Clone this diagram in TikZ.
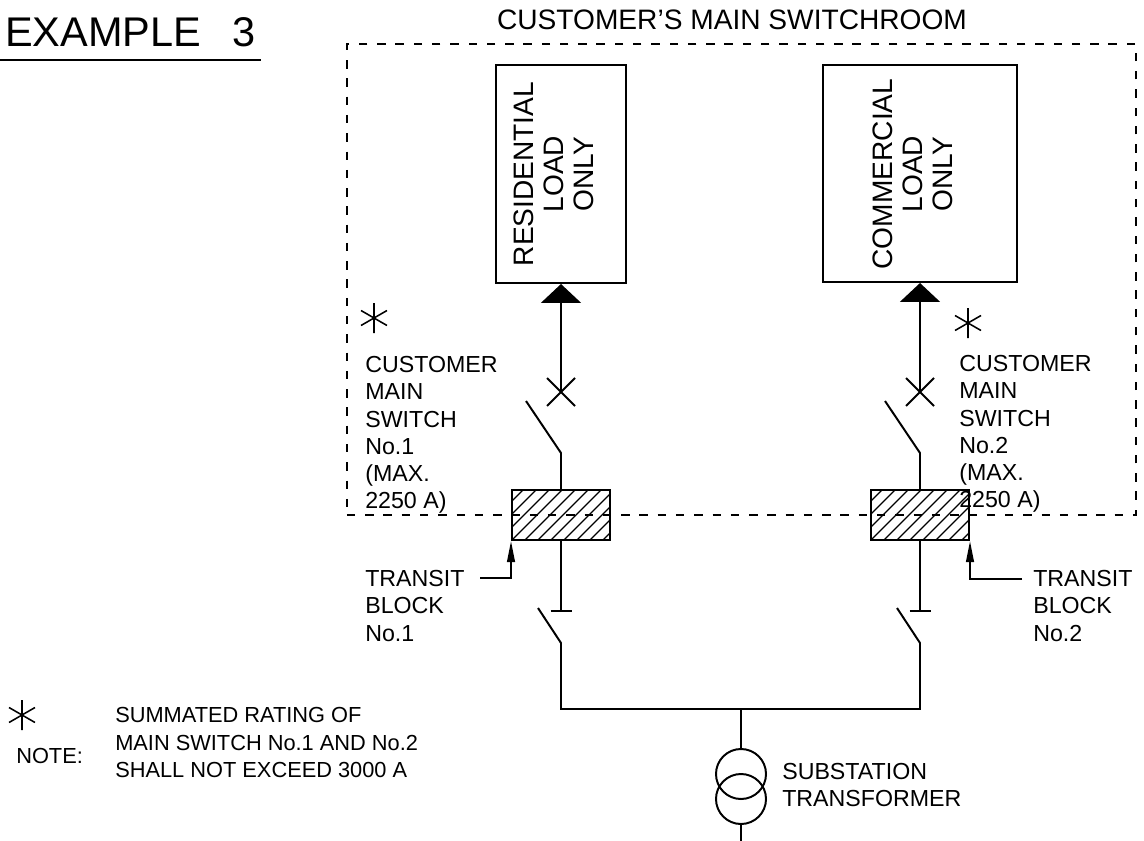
\documentclass[tikz,border=0pt]{standalone}
\usepackage{fontspec}
\setmainfont{Liberation Sans}
\usetikzlibrary{positioning,calc,arrows.meta}
\tikzset{
	wire/.style={line width=1.4pt},
	loadbox/.style={draw=black,line width=1.4pt,inner sep=0pt},
	blockbox/.style={loadbox,minimum width=2.45cm,minimum height=1.25cm,
		path picture={\foreach \k in {-4,...,7} \draw[line width=0.9pt] ($(path picture bounding box.south west)+(\k*13,0)$)--++(60,-60);}},
	lbl/.style={inner sep=0pt,align=left,font=\fontsize{16.5}{19.4}\selectfont},
	feed/.style={wire,-{Triangle[length=13.5pt,width=28.5pt]}},
	lead/.style={wire,-{Triangle[length=15pt,width=5.5pt]}},
	room/.style={draw=black,line width=1.4pt,dash pattern=on 6pt off 7pt,inner sep=0pt},
}
\newcommand{\starmark}[1]{\draw[line width=1.1pt] (#1) +(90:15) -- +(270:15) +(30:15) -- +(210:15) +(150:15) -- +(330:15);}
\begin{document}
\begin{tikzpicture}[x=0.025cm,y=-0.025cm]
	\useasboundingbox (0,0) rectangle (1144,841);
	\node[inner sep=0pt,anchor=base west,font=\fontsize{29.5}{30}\selectfont] (ex) at (5,47) {EXAMPLE\hspace{0.75em}3};
	\draw[line width=2pt] (0,60) -- (261,60);
	
	\node[room,minimum width=19.725cm,minimum height=11.775cm] (sw) at (741.5,279.5) {};
	\node[inner sep=0pt,anchor=base,font=\fontsize{20}{22}\selectfont] (swt) at (732,30) {CUSTOMER'S MAIN SWITCHROOM};
	
	\node[loadbox,minimum width=3.25cm,minimum height=5.45cm] (res) at (561,174) {};
	\node[inner sep=0pt,rotate=90,align=center,font=\fontsize{20}{21.3}\selectfont] (rest) at (554,174) {RESIDENTIAL\\LOAD\\ONLY};
	\node[loadbox,minimum width=4.85cm,minimum height=5.425cm] (com) at (920,173.5) {};
	\node[inner sep=0pt,rotate=90,align=center,font=\fontsize{20}{21.3}\selectfont] (comt) at (913,174) {COMMERCIAL\\LOAD\\ONLY};
	
	\node[blockbox] (blk1) at (561,515) {};
	\node[blockbox] (blk2) at (920,515) {};
	
	\coordinate (xa) at (561,392);
	\coordinate (xb) at (920,392);
	\coordinate (sa1) at (526,401);
	\coordinate (sb1) at (561,453);
	\coordinate (sa2) at (885,401);
	\coordinate (sb2) at (920,453);
	\coordinate (ka1) at (561,611);
	\coordinate (ka2) at (920,611);
	\coordinate (la1) at (538,608);
	\coordinate (lb1) at (561,643);
	\coordinate (la2) at (897,608);
	\coordinate (lb2) at (920,643);
	\coordinate (bus) at (741,709);
	\coordinate (gnd) at (741,841);
	
	\draw[feed] (xa) -- (res.south);
	\draw[feed] (xb) -- (com.south);
	\draw[wire] (xa) +(-14,-14) -- +(14,14) +(-14,14) -- +(14,-14);
	\draw[wire] (xb) +(-14,-14) -- +(14,14) +(-14,14) -- +(14,-14);
	\draw[wire] (sa1) -- (sb1) -- (blk1.north);
	\draw[wire] (sa2) -- (sb2) -- (blk2.north);
	\draw[wire] (blk1.south) -- (ka1);
	\draw[wire] (blk2.south) -- (ka2);
	\draw[wire] (ka1) +(-10.5,0) -- +(10.5,0);
	\draw[wire] (ka2) +(-10.5,0) -- +(10.5,0);
	\draw[wire] (la1) -- (lb1) |- (bus) -| (lb2) -- (la2);
	
	\node[draw,circle,line width=1.4pt,minimum size=1.25cm,inner sep=0pt] (tra) at (741,774) {};
	\node[draw,circle,line width=1.4pt,minimum size=1.25cm,inner sep=0pt] (trb) at (741,799) {};
	\draw[wire] (bus) -- (tra.north);
	\draw[wire] (trb.south) -- (gnd);
	\node[lbl,anchor=north west] (trl) at (782,763) {SUBSTATION\\TRANSFORMER};
	
	\coordinate (st1) at (374,318);
	\coordinate (st2) at (968,323);
	\starmark{st1}
	\starmark{st2}
	\node[lbl,anchor=north west] (cms1) at (365,356) {CUSTOMER\\MAIN\\SWITCH\\No.1\\(MAX.\\2250 A)};
	\node[lbl,anchor=north west] (cms2) at (959,355) {CUSTOMER\\MAIN\\SWITCH\\No.2\\(MAX.\\2250 A)};
	
	\node[lbl,anchor=north west] (tb1) at (365,570) {TRANSIT\\BLOCK\\No.1};
	\node[lbl,anchor=north west] (tb2) at (1033,570) {TRANSIT\\BLOCK\\No.2};
	\coordinate (t1) at (480,578);
	\coordinate (t2) at (1022,579);
	\draw[lead] (t1) -| (blk1.south west);
	\draw[lead] (t2) -| (blk2.south east);
	
	\coordinate (st3) at (22,715);
	\starmark{st3}
	\node[lbl,anchor=north west,font=\fontsize{15.5}{19.6}\selectfont] (nt) at (115,707) {SUMMATED RATING OF\\MAIN SWITCH No.1 AND No.2\\SHALL NOT EXCEED 3000 A};
	\node[inner sep=0pt,anchor=base west,font=\fontsize{15.5}{16}\selectfont] (ntl) at (16,763) {NOTE:};
\end{tikzpicture}
\end{document}
